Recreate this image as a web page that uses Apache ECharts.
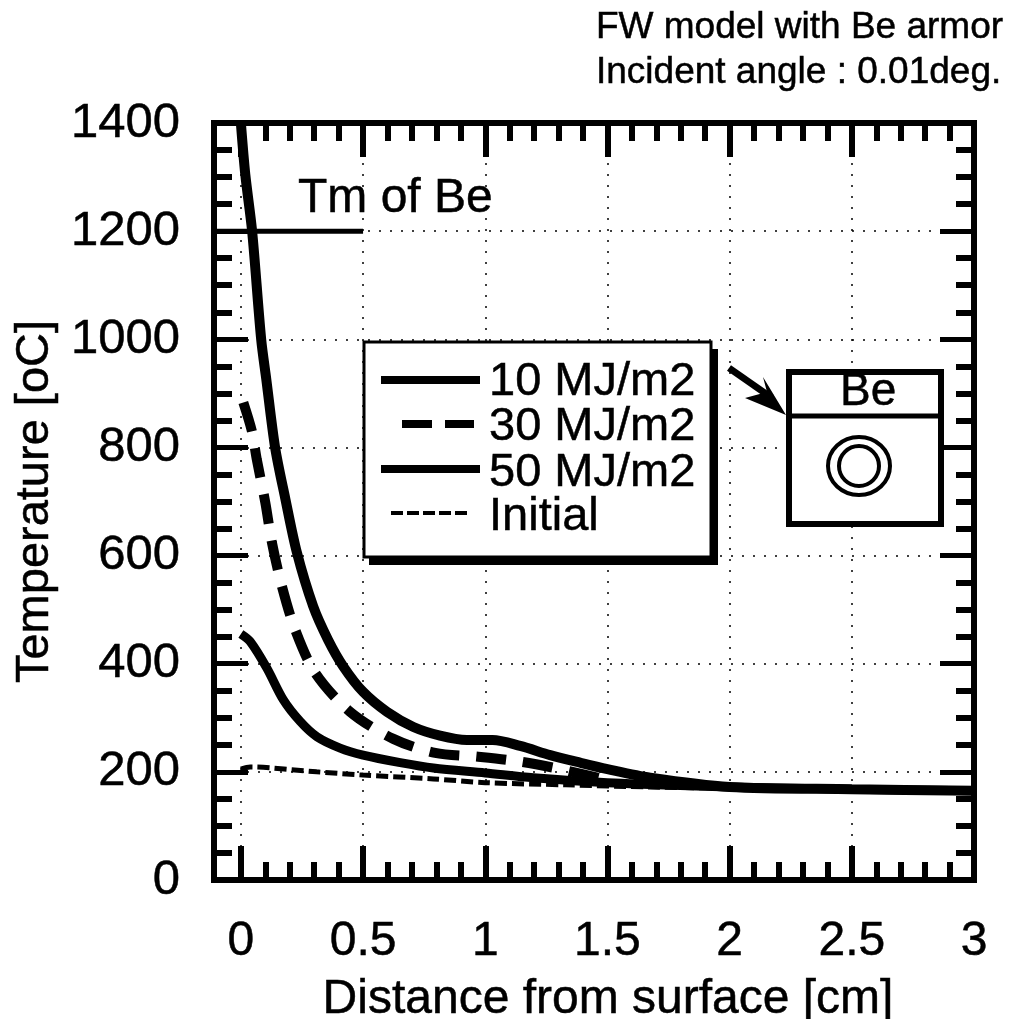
<!DOCTYPE html>
<html>
<head>
<meta charset="utf-8">
<title>Temperature vs distance</title>
<script src="https://cdn.jsdelivr.net/npm/echarts@6/dist/echarts.min.js"></script>
<style>
  html, body { margin: 0; padding: 0; background: #fff; }
  #chart { width: 1017px; height: 1019px; }
</style>
</head>
<body>
<div id="chart"></div>
<script>
// values
const xMajor = [0, 0.5, 1, 1.5, 2, 2.5, 3];
const xMinor = [0.1, 0.2, 0.3, 0.4, 0.6, 0.7, 0.8, 0.9, 1.1, 1.2, 1.3, 1.4, 1.6, 1.7, 1.8, 1.9, 2.1, 2.2, 2.3, 2.4, 2.6, 2.7, 2.8, 2.9];

const x50 = [0, 0.018, 0.046, 0.083, 0.104, 0.14, 0.181, 0.229, 0.296, 0.357, 0.419, 0.5, 0.598, 0.706, 0.815, 0.925, 1.03, 1.143, 1.266, 1.388, 1.5, 1.675, 2, 2.5, 3];
const y50 = [1400, 1305, 1200, 1000, 926, 800, 707, 606, 506, 444, 395, 348, 311, 283, 267, 259, 259, 248, 231, 217, 205, 189, 172, 168, 165];

const x30 = [0.01, 0.045, 0.065, 0.1, 0.127, 0.168, 0.222, 0.304, 0.447, 0.624, 0.795, 0.971, 1.143, 1.318, 1.5];
const y30 = [883, 830, 778, 698, 624, 543, 463, 383, 311, 261, 235, 228, 219, 204, 185];

const x10 = [0, 0.038, 0.106, 0.174, 0.243, 0.311, 0.406, 0.5, 0.652, 0.788, 1, 1.197, 1.5, 2, 2.5, 3];
const y10 = [455, 441, 392, 333, 293, 265, 244, 231, 217, 207, 198, 189, 180, 172, 168, 165];

const xInit = [0, 0.038, 0.31, 0.5, 0.788, 1, 1.33, 1.675, 2];
const yInit = [205, 209, 200, 194, 187, 180, 176, 172, 170];

const xTm = [-0.11, 0.5];
const yTm = [1200, 1200];

const legendNames = ['10 MJ/m2', '30 MJ/m2', '50 MJ/m2', 'Initial'];

const FONT = '"Liberation Sans", Arial, sans-serif';

function zip(xs, ys) {
  return xs.map((x, i) => [x, ys[i]]);
}

// x axis with hand-picked ticks, min is not a multiple of the step
function xAxisOf(position, values, len, showLabel) {
  return {
    type: 'value', position: position, min: -0.11, max: 3,
    axisLine: { show: true, onZero: false, lineStyle: { color: '#000', width: 6, cap: 'square' } },
    axisTick: { show: true, inside: true, length: len, customValues: values, lineStyle: { color: '#000', width: 6 } },
    axisLabel: showLabel ? {
      show: true, customValues: xMajor, margin: 38, color: '#000', fontFamily: FONT, fontSize: 48,
      textBorderColor: '#000', textBorderWidth: 0.5,
      formatter: v => String(v)
    } : { show: false },
    splitLine: { show: false }
  };
}

function yAxisOf(position, showLabel) {
  return {
    type: 'value', position: position, min: 0, max: 1400, interval: 200,
    axisLine: { show: true, onZero: false, lineStyle: { color: '#000', width: 6, cap: 'square' } },
    axisTick: { show: true, inside: true, length: 34, lineStyle: { color: '#000', width: 5 } },
    minorTick: { show: true, splitNumber: 4, length: 18, lineStyle: { color: '#000', width: 6 } },
    axisLabel: showLabel ? {
      show: true, margin: 34, color: '#000', fontFamily: FONT, fontSize: 49,
      textBorderColor: '#000', textBorderWidth: 0.5,
      formatter: v => String(v)
    } : { show: false },
    splitLine: { show: showLabel, lineStyle: { color: '#000', width: 1.5, type: [2, 9] } }
  };
}

const xAxes = [
  xAxisOf('bottom', xMajor, 34, true),
  xAxisOf('bottom', xMinor, 18, false),
  xAxisOf('top', xMajor, 34, false),
  xAxisOf('top', xMinor, 18, false)
];
xAxes[0].name = 'Distance from surface [cm]';
xAxes[0].nameLocation = 'middle';
xAxes[0].nameGap = 96;
xAxes[0].nameMoveOverlap = false;
xAxes[0].nameTextStyle = { color: '#000', fontFamily: FONT, fontSize: 48, padding: [0, 0, 0, 28], lineHeight: 48, textBorderColor: '#000', textBorderWidth: 0.5 };

const yAxes = [yAxisOf('left', true), yAxisOf('right', false)];
yAxes[0].name = 'Temperature [oC]';
yAxes[0].nameLocation = 'middle';
yAxes[0].nameGap = 155;
yAxes[0].nameMoveOverlap = false;
yAxes[0].nameTextStyle = { color: '#000', fontFamily: FONT, fontSize: 47, lineHeight: 47, textBorderColor: '#000', textBorderWidth: 0.5 };

function curve(name, xs, ys, width, dash) {
  return {
    name: name, type: 'line', data: zip(xs, ys), showSymbol: false, symbol: 'none',
    smooth: 0.3, clip: true, z: 3, silent: true,
    lineStyle: { color: '#000', width: width, type: dash || 'solid', cap: 'butt' }
  };
}

const tmSeries = {
  name: 'Tm of Be', type: 'line', data: zip(xTm, yTm), symbol: 'none', z: 3, silent: true,
  lineStyle: { color: '#000', width: 5 },
  // vertical grid, splitLine can't follow customValues
  markLine: {
    silent: true, symbol: 'none', animation: false, label: { show: false },
    lineStyle: { color: '#000', width: 1.5, type: [2, 9] },
    data: xMajor.slice(0, 6).map(v => ({ xAxis: v }))
  }
};

function txt(x, y, text, size) {
  return { type: 'text', x: x, y: y, z: 20, style: { text: text, fill: '#000', fontFamily: FONT, fontSize: size, textVerticalAlign: 'middle', stroke: '#000', lineWidth: 0.5 } };
}
function seg(x1, y1, x2, y2, w, dash) {
  return { type: 'line', z: 20, shape: { x1: x1, y1: y1, x2: x2, y2: y2 }, style: { stroke: '#000', lineWidth: w, lineDash: dash || null } };
}

const legendBox = [
  { type: 'rect', z: 18, shape: { x: 369, y: 349, width: 349, height: 216 }, style: { fill: '#000' } },
  { type: 'rect', z: 19, shape: { x: 364, y: 342, width: 347, height: 215 }, style: { fill: '#fff', stroke: '#000', lineWidth: 3 } },
  seg(381, 380, 480, 380, 8),
  seg(402, 424, 432, 424, 8),
  seg(445, 424, 474, 424, 8),
  seg(381, 469, 480, 469, 8),
  seg(391, 513, 471, 513, 4, [12, 4]),
  txt(489, 382, legendNames[0], 47),
  txt(489, 427, legendNames[1], 47),
  txt(489, 473, legendNames[2], 47),
  txt(489, 517, legendNames[3], 47)
];

const inset = [
  { type: 'rect', z: 19, shape: { x: 789, y: 372, width: 152, height: 152 }, style: { fill: '#fff', stroke: '#000', lineWidth: 6 } },
  seg(789, 416, 941, 416, 5),
  txt(840, 392, 'Be', 46),
  { type: 'ellipse', z: 20, shape: { cx: 859, cy: 466, rx: 31, ry: 29 }, style: { fill: 'none', stroke: '#000', lineWidth: 4 } },
  { type: 'ellipse', z: 20, shape: { cx: 859, cy: 466, rx: 20, ry: 20 }, style: { fill: 'none', stroke: '#000', lineWidth: 4 } },
  seg(729, 368, 772, 398, 7),
  { type: 'polygon', z: 20, shape: { points: [[786, 415], [763, 377], [767, 392], [745, 398]] }, style: { fill: '#000' } }
];

const chart = echarts.init(document.getElementById('chart'), null, { renderer: 'canvas' });
chart.setOption({
  animation: false,
  backgroundColor: '#fff',
  grid: { left: 214, top: 123, width: 760, height: 757, containLabel: false, outerBoundsMode: 'none' },
  xAxis: xAxes,
  yAxis: yAxes,
  series: [
    tmSeries,
    curve(legendNames[3], xInit, yInit, 5, [12, 5]),
    curve(legendNames[0], x10, y10, 9),
    curve(legendNames[1], x30, y30, 10, [30, 17]),
    curve(legendNames[2], x50, y50, 10)
  ],
  graphic: [
    txt(596, 28, 'FW model with Be armor', 37),
    txt(596, 73, 'Incident angle : 0.01deg.', 37),
    txt(298, 199, 'Tm of Be', 48)
  ].concat(legendBox, inset)
});
</script>
</body>
</html>
